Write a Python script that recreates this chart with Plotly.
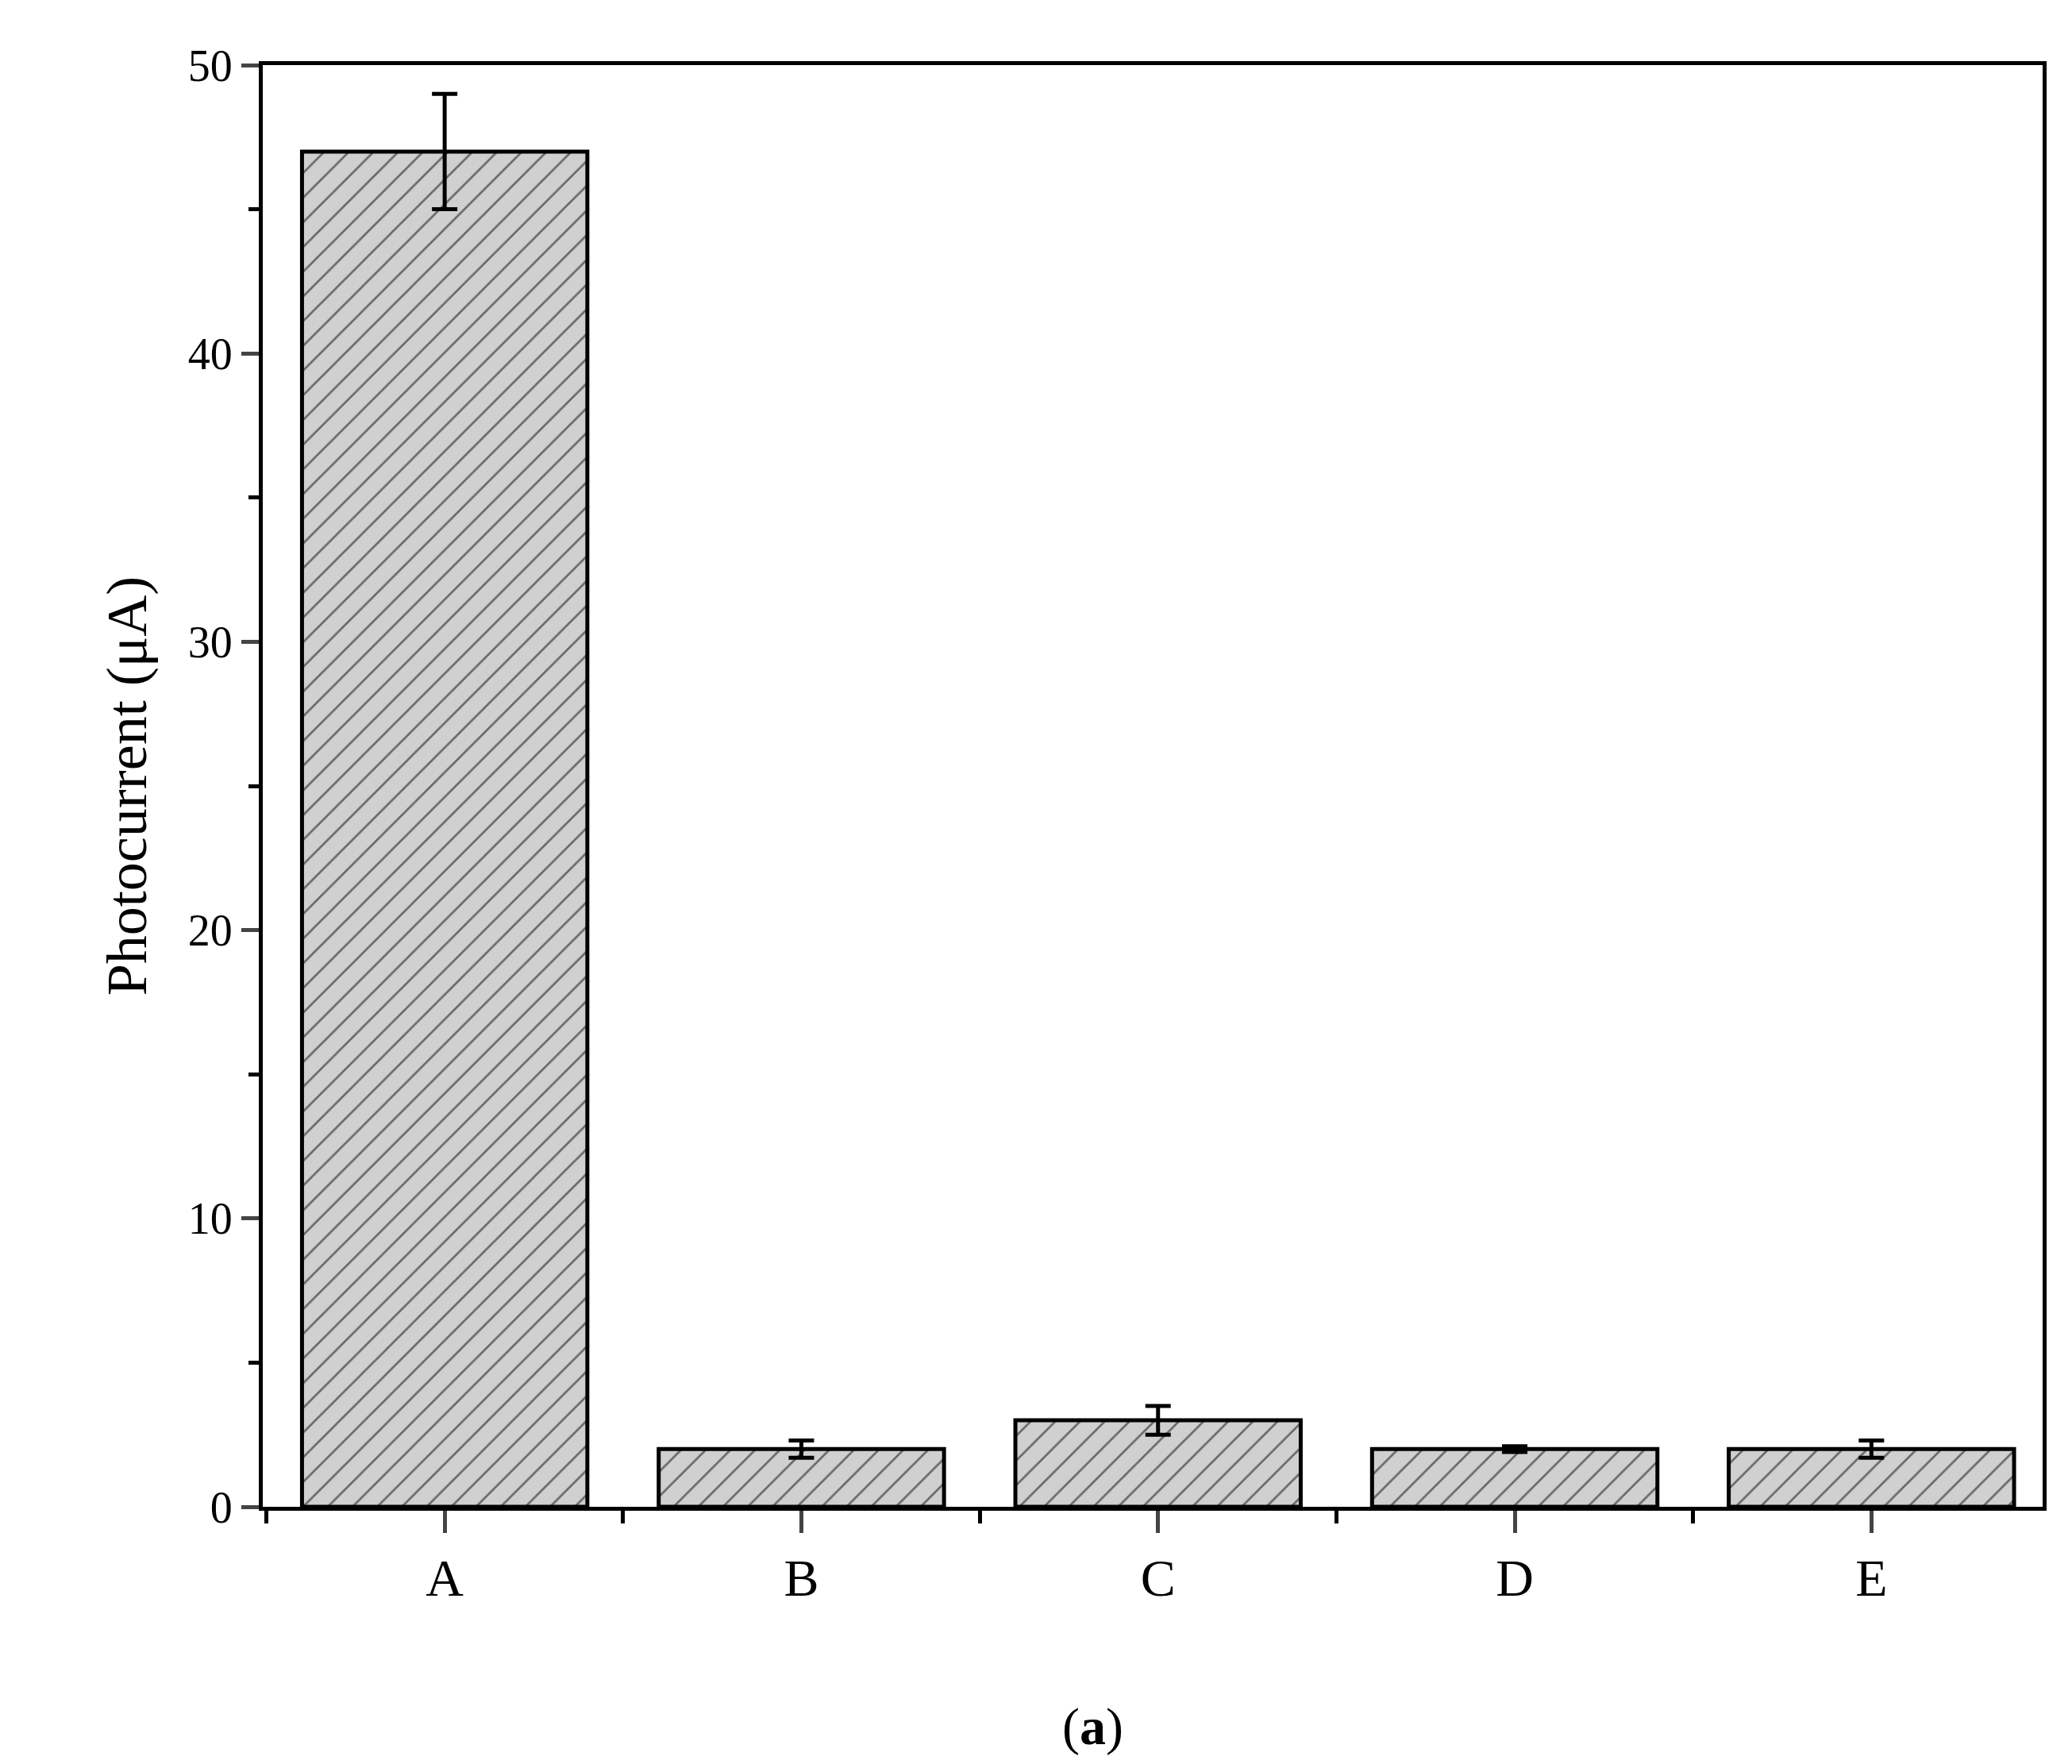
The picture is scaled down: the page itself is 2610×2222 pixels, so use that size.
import plotly.graph_objects as go

categories = ["A", "B", "C", "D", "E"]
values = [47.0, 2.0, 3.0, 2.0, 2.0]
errors = [2.0, 0.3, 0.5, 0.1, 0.3]
positions = [1, 2, 3, 4, 5]

fig = go.Figure()
fig.add_trace(go.Bar(
    x=positions, y=values, width=0.8,
    marker=dict(color="#d0d0d0", line=dict(color="black", width=5),
                pattern=dict(shape="/", fgcolor="black", bgcolor="#d0d0d0", size=22, solidity=0.12)),
    error_y=dict(type="data", array=errors, color="black", thickness=5, width=16),
))

font = "Liberation Serif"
fig.update_layout(
    width=2610, height=2222, plot_bgcolor="white", paper_bgcolor="white",
    margin=dict(l=323, r=45, t=74, b=332), showlegend=False,
    font=dict(family=font, color="black"),
)
fig.update_xaxes(
    range=[0.49, 5.48], tickvals=positions, ticktext=categories,
    tickfont=dict(size=66, family=font), ticks="outside", ticklen=28, tickwidth=5,
    showline=True, linewidth=5, linecolor="black", mirror=True, showgrid=False, zeroline=False,
    minor=dict(tickvals=[0.5, 1.5, 2.5, 3.5, 4.5], ticks="outside", ticklen=16, tickwidth=5, tickcolor="black"),
)
fig.update_yaxes(
    range=[0, 50], tickvals=[0, 10, 20, 30, 40, 50],
    tickfont=dict(size=56, family=font), ticks="outside", ticklen=22, tickwidth=5,
    showline=True, linewidth=5, linecolor="black", mirror=True, showgrid=False, zeroline=False,
    title=dict(text="Photocurrent (μA)", font=dict(size=72, family=font), standoff=30),
    minor=dict(tickvals=[5, 15, 25, 35, 45], ticks="outside", ticklen=13, tickwidth=5, tickcolor="black"),
)
fig.add_annotation(text="(<b>a</b>)", x=0.5, y=2167, xref="paper", yref="paper", showarrow=False)
fig.layout.annotations = []
fig.add_annotation(text="(<b>a</b>)", xref="paper", yref="paper", x=(1368 - 323) / 2242, y=-(2167 - 1890) / 1816,
                   showarrow=False, font=dict(size=66, family=font), yanchor="middle")
fig.write_html("out.html")
